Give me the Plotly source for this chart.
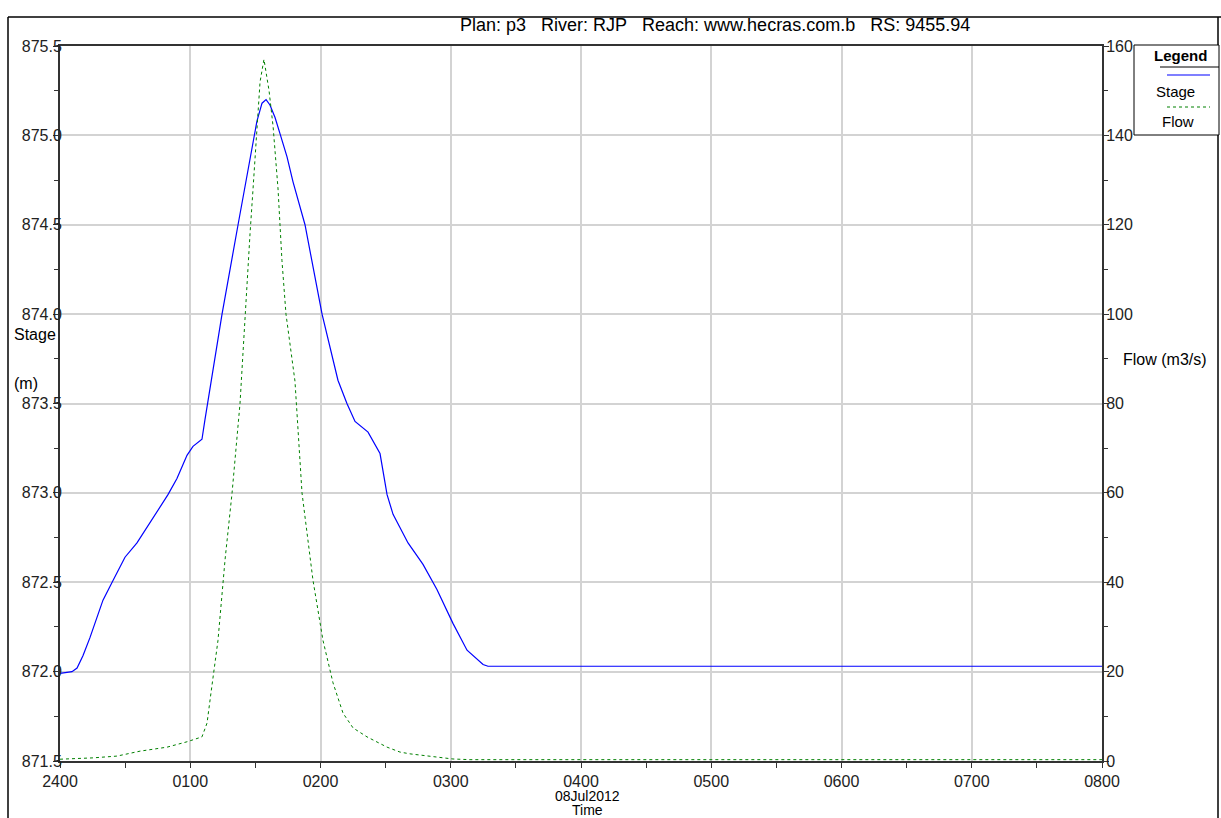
import plotly.graph_objects as go

# Time in hours after 2400 (07/08 Jul 2012)
stage_time = [0.000, 0.092, 0.131, 0.177, 0.230, 0.269, 0.330, 0.407, 0.499, 0.591,
              0.729, 0.829, 0.898, 0.975, 1.021, 1.090, 1.113, 1.152, 1.244, 1.367,
              1.420, 1.459, 1.512, 1.551, 1.582, 1.612, 1.651, 1.689, 1.743, 1.789,
              1.881, 2.012, 2.134, 2.203, 2.265, 2.365, 2.457, 2.511, 2.557, 2.672,
              2.787, 2.894, 3.017, 3.125, 3.248, 3.286, 8.000]
stage_m = [871.99, 872.00, 872.02, 872.09, 872.19, 872.27, 872.40, 872.51, 872.64, 872.72,
           872.88, 872.99, 873.08, 873.21, 873.26, 873.30, 873.41, 873.58, 874.00, 874.50,
           874.71, 874.88, 875.08, 875.18, 875.20, 875.17, 875.10, 875.01, 874.88, 874.74,
           874.50, 874.00, 873.63, 873.50, 873.40, 873.34, 873.22, 872.99, 872.88, 872.72,
           872.60, 872.46, 872.27, 872.12, 872.04, 872.03, 872.03]

flow_time = [0.000, 0.253, 0.438, 0.614, 0.822, 0.975, 1.090, 1.129, 1.159, 1.190,
             1.213, 1.267, 1.321, 1.382, 1.420, 1.459, 1.482, 1.505, 1.520, 1.536,
             1.566, 1.605, 1.636, 1.674, 1.704, 1.735, 1.804, 1.858, 1.942, 2.019,
             2.096, 2.173, 2.250, 2.357, 2.511, 2.610, 2.687, 2.818, 2.917, 3.017,
             3.148, 8.000]
flow_m3s = [0.4, 0.7, 1.1, 2.2, 3.1, 4.3, 5.4, 8.5, 15.2, 22.6,
            27.0, 45.0, 60.0, 80.0, 100.0, 118.0, 128.0, 139.0, 146.0, 152.0,
            157.0, 150.0, 142.0, 128.0, 112.0, 100.0, 85.0, 60.0, 40.5, 27.0,
            17.5, 10.7, 7.4, 5.4, 3.1, 2.0, 1.6, 1.1, 0.7, 0.45,
            0.3, 0.3]

x_tickvals = [0, 1, 2, 3, 4, 5, 6, 7, 8]
x_ticktext = ["2400", "0100", "0200", "0300", "0400", "0500", "0600", "0700", "0800"]

NB = "\u00a0"
title_text = ("Plan: p3" + NB * 3 + "River: RJP" + NB * 3 +
              "Reach: www.hecras.com.b" + NB * 3 + "RS: 9455.94")

FONT = "Liberation Sans, Arial, sans-serif"
W, H = 1221, 818
L, R, T, B = 60, 1102, 46, 761


def px(x):
    return (x - L) / (R - L)


def py(y):
    return (B - y) / (B - T)


fig = go.Figure()
fig.add_trace(go.Scatter(x=flow_time, y=flow_m3s, mode="lines", name="Flow",
                         yaxis="y2", line=dict(color="#008000", width=1, dash="dot")))
fig.add_trace(go.Scatter(x=stage_time, y=stage_m, mode="lines", name="Stage",
                         line=dict(color="#0000ff", width=1.2)))

axis_common = dict(showline=True, linecolor="#333333", linewidth=2,
                   ticks="outside", ticklen=5, tickcolor="#333333", tickwidth=1,
                   tickfont=dict(family=FONT, size=16, color="#222222"),
                   zeroline=False)

fig.update_layout(
    width=W, height=H,
    margin=dict(l=L, r=W - R, t=T, b=H - B),
    paper_bgcolor="white", plot_bgcolor="white",
    showlegend=False,
    font=dict(family=FONT, color="black"),
    xaxis=dict(range=[0, 8], tickvals=x_tickvals, ticktext=x_ticktext,
               showgrid=True, gridcolor="#d3d3d3", gridwidth=1.5, mirror=True,
               minor=dict(dtick=0.5, ticks="outside", ticklen=5, tickcolor="#333333", showgrid=False),
               **axis_common),
    yaxis=dict(range=[871.5, 875.5], dtick=0.5, tick0=871.5, tickformat=".1f",
               showgrid=True, gridcolor="#d3d3d3", gridwidth=1.5, ticklabelstandoff=-12,
               minor=dict(dtick=0.25, ticks="outside", ticklen=4, tickcolor="#333333", showgrid=False),
               **axis_common),
    yaxis2=dict(range=[0, 160], dtick=20, tick0=0, overlaying="y", side="right",
                showgrid=False, ticklabelstandoff=-6,
                minor=dict(dtick=10, ticks="outside", ticklen=4, tickcolor="#333333", showgrid=False),
                **axis_common),
)

shapes = []
# outer frame
shapes.append(dict(type="line", xref="paper", yref="paper", x0=px(8), x1=px(1221), y0=py(17), y1=py(17),
                   line=dict(color="black", width=1.5)))
shapes.append(dict(type="line", xref="paper", yref="paper", x0=px(8), x1=px(8), y0=py(17), y1=py(830),
                   line=dict(color="black", width=1.5)))
shapes.append(dict(type="line", xref="paper", yref="paper", x0=px(1218), x1=px(1218), y0=py(17), y1=py(830),
                   line=dict(color="black", width=1.5)))
# legend box
shapes.append(dict(type="rect", xref="paper", yref="paper", x0=px(1134), x1=px(1219), y0=py(45), y1=py(135),
                   line=dict(color="black", width=1), fillcolor="white"))
shapes.append(dict(type="line", xref="paper", yref="paper", x0=px(1160), x1=px(1219), y0=py(67), y1=py(67),
                   line=dict(color="black", width=1)))
shapes.append(dict(type="line", xref="paper", yref="paper", x0=px(1167), x1=px(1210), y0=py(75), y1=py(75),
                   line=dict(color="#0000ff", width=1.2)))
shapes.append(dict(type="line", xref="paper", yref="paper", x0=px(1167), x1=px(1210), y0=py(107), y1=py(107),
                   line=dict(color="#008000", width=1, dash="dot")))
fig.update_layout(shapes=shapes)

ann = [
    dict(text=title_text, x=px(715), y=py(25), size=18),
    dict(text="<b>Legend</b>", x=px(1180), y=py(56), size=15),
    dict(text="Stage", x=px(1175), y=py(92), size=15),
    dict(text="Flow", x=px(1178), y=py(122), size=15),
    dict(text="Stage", x=px(12), y=py(335), size=16, xanchor="left"),
    dict(text="(m)", x=px(12), y=py(383), size=16, xanchor="left"),
    dict(text="Flow (m3/s)", x=px(1121), y=py(359), size=16, xanchor="left"),
    dict(text="08Jul2012", x=px(587), y=py(796), size=14),
    dict(text="Time", x=px(587), y=py(810), size=14),
]
for a in ann:
    fig.add_annotation(text=a["text"], xref="paper", yref="paper", x=a["x"], y=a["y"],
                       xanchor=a.get("xanchor", "center"), yanchor="middle", showarrow=False,
                       font=dict(family=FONT, size=a["size"], color="black"))

fig.write_html("out.html")
